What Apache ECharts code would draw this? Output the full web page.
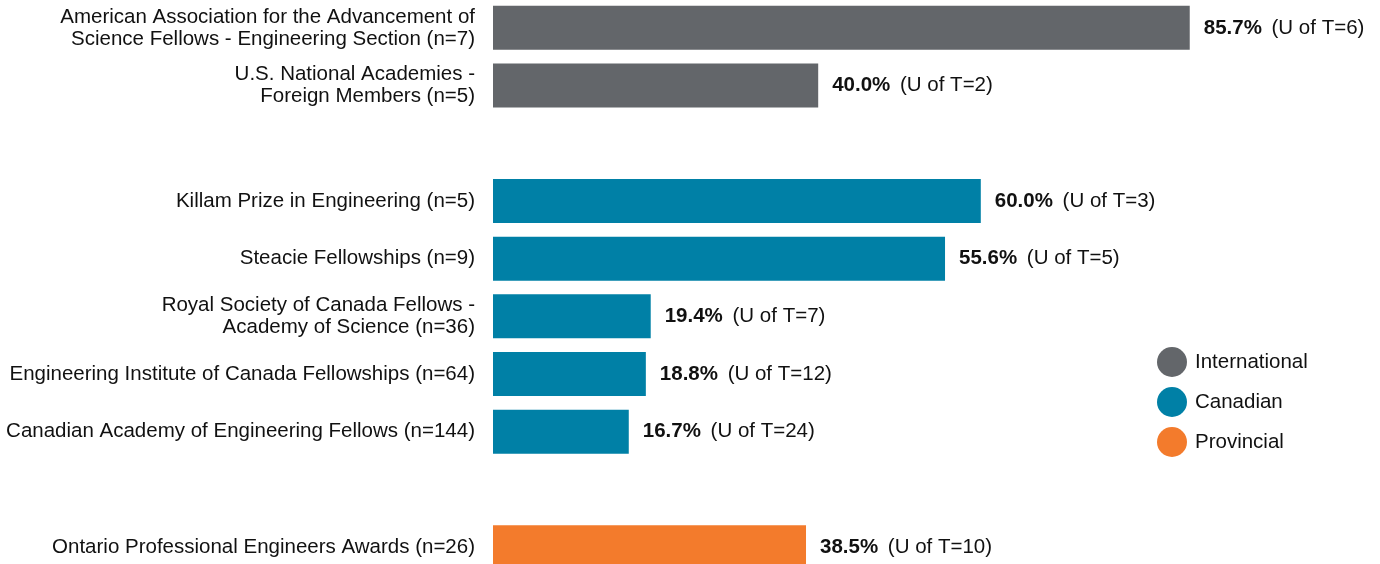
<!DOCTYPE html>
<html>
<head>
<meta charset="utf-8">
<script src="https://cdn.jsdelivr.net/npm/echarts@6/dist/echarts.min.js"></script>
<style>
  html, body { margin: 0; padding: 0; background: #fff; }
  #chart { width: 1380px; height: 564px; }
</style>
</head>
<body>
<div id="chart"></div>
<script>
const categories = [
  'American Association for the Advancement of\nScience Fellows - Engineering Section (n=7)',
  'U.S. National Academies -\nForeign Members (n=5)',
  ' ',
  'Killam Prize in Engineering (n=5)',
  'Steacie Fellowships (n=9)',
  'Royal Society of Canada Fellows -\nAcademy of Science (n=36)',
  'Engineering Institute of Canada Fellowships (n=64)',
  'Canadian Academy of Engineering Fellows (n=144)',
  '  ',
  'Ontario Professional Engineers Awards (n=26)'
];
const international = [85.7, 40.0, null, null, null, null, null, null, null, null];
const canadian = [null, null, null, 60.0, 55.6, 19.4, 18.8, 16.7, null, null];
const provincial = [null, null, null, null, null, null, null, null, null, 38.5];
const uoftCount = [6, 2, null, 3, 5, 7, 12, 24, null, 10];

const font = 'Liberation Sans, Arial, Helvetica, sans-serif';

function valueLabel(p) {
  return '{b|' + p.value.toFixed(1) + '%}  {n|(U of T=' + uoftCount[p.dataIndex] + ')}';
}

function makeSeries(name, data, color) {
  return {
    name: name,
    type: 'bar',
    stack: 'all',
    data: data,
    barWidth: 44,
    itemStyle: { color: color },
    label: {
      show: true,
      position: 'right',
      distance: 14,
      formatter: valueLabel,
      rich: {
        b: { fontFamily: font, fontSize: 20.5, fontWeight: 'bold', color: '#111' },
        n: { fontFamily: font, fontSize: 20.5, color: '#111', padding: [0, 0, 0, 3] }
      }
    }
  };
}

const chart = echarts.init(document.getElementById('chart'));
chart.setOption({
  animation: false,
  grid: {
    left: 493, width: 813, top: -1, height: 577,
    containLabel: false, outerBoundsMode: 'none'
  },
  legend: {
    orient: 'vertical',
    left: 1152,
    top: 342,
    icon: 'circle',
    itemWidth: 30,
    itemHeight: 30,
    itemGap: 10,
    textStyle: { fontFamily: font, fontSize: 20.5, color: '#111', padding: [0, 0, 0, 3] },
    data: ['International', 'Canadian', 'Provincial']
  },
  xAxis: {
    type: 'value',
    min: 0,
    max: 100,
    show: false
  },
  yAxis: {
    type: 'category',
    inverse: true,
    data: categories,
    axisLine: { show: false },
    axisTick: { show: false },
    axisLabel: {
      margin: 18,
      fontFamily: font,
      fontSize: 20.5,
      lineHeight: 22,
      color: '#111',
      align: 'right'
    }
  },
  series: [
    makeSeries('International', international, '#63666a'),
    makeSeries('Canadian', canadian, '#0080a6'),
    makeSeries('Provincial', provincial, '#f37b2c')
  ]
});
</script>
</body>
</html>
